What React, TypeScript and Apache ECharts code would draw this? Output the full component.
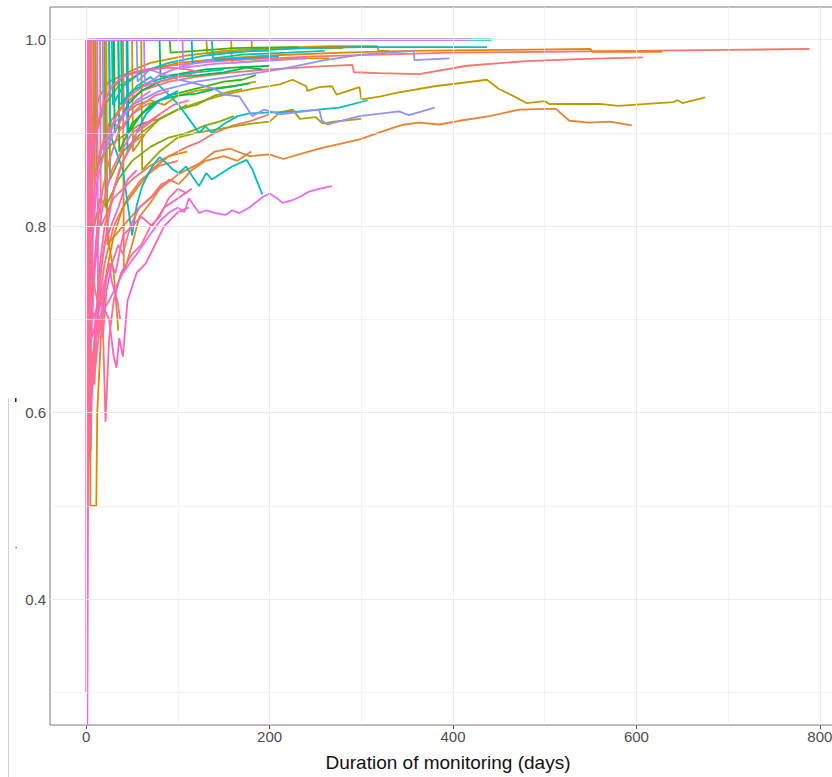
import React, { useEffect, useRef } from "react";
import * as echarts from "echarts";

// ---- axis ticks ----
const X_TICKS = [0, 200, 400, 600, 800];
const X_MINOR = [100, 300, 500, 700];
const Y_TICKS = [0.4, 0.6, 0.8, 1.0];
const Y_MINOR = [0.3, 0.5, 0.7, 0.9];
const X_TITLE = "Duration of monitoring (days)";

// ---- palette (ggplot hue) ----
const SALMON = "#F8766D", ORANGE = "#E58700", ORANGE2 = "#EA8331", GOLD = "#D39200", GOLD2 = "#C09B00",
  OLIVE = "#A3A500", OLIVEGREEN = "#7CAE00", GREEN = "#39B600", GREEN2 = "#00BB4E", TEAL2 = "#00C1A3",
  CYAN = "#00BFC4", BLUE = "#00B0F6", PERI = "#9590FF", PURPLE = "#C77CFF", MAGENTA = "#E76BF3",
  PINK1 = "#FA62DB", PINK2 = "#FF62BC", PINK3 = "#FF6C91";

// ---- series values: [day, proportion] ----
const A01 = [[3,1],[4,0.9],[8,0.92],[15,0.94],[25,0.955],[40,0.962],[60,0.967],[90,0.972],[130,0.976],[180,0.979],[250,0.982],[320,0.984],[400,0.986],[500,0.987],[600,0.988],[700,0.989],[789,0.99]];
const A02 = [[8,1],[9,0.85],[15,0.88],[25,0.91],[40,0.93],[60,0.945],[90,0.955],[120,0.96],[160,0.965],[200,0.968],[250,0.971],[290,0.973],[292,0.965],[320,0.964],[363,0.963],[415,0.972],[480,0.977],[538,0.979],[607,0.981]];
const A23 = [[15,1],[16,0.8],[30,0.83],[50,0.85],[70,0.865],[90,0.875],[110,0.885],[123,0.89],[140,0.9],[160,0.908],[180,0.913],[200,0.92]];
const A30 = [[0,1],[1,0.55],[5,0.56],[6,0.62],[12,0.7],[20,0.76],[30,0.8],[45,0.83],[60,0.85],[80,0.865],[100,0.87]];
const A42 = [[20,1],[21,0.9],[30,0.91],[40,0.905],[50,0.92],[65,0.93],[80,0.935]];
const A03 = [[10,1],[11,0.9],[20,0.93],[35,0.95],[60,0.965],[100,0.975],[150,0.98],[200,0.983],[280,0.986],[350,0.988],[450,0.989],[550,0.99],[552,0.987],[628,0.987]];
const A11 = [[40,1],[41,0.75],[50,0.78],[58,0.81],[70,0.825],[80,0.84],[101,0.856],[123,0.867],[140,0.88],[157,0.883],[178,0.875],[200,0.877],[215,0.872],[232,0.877],[254,0.883],[298,0.893],[336,0.906],[347,0.909],[363,0.911],[385,0.909],[407,0.913],[440,0.918],[472,0.925],[512,0.926],[522,0.917],[527,0.913],[549,0.911],[571,0.912],[595,0.908]];
const A24 = [[22,1],[23,0.78],[40,0.8],[58,0.82],[75,0.835],[90,0.85],[101,0.845],[115,0.86],[130,0.87],[150,0.875],[165,0.87],[180,0.88]];
const A29 = [[4,1],[4.5,0.5],[11,0.5],[12,0.6],[16,0.68],[22,0.75],[30,0.79],[40,0.82],[55,0.84],[70,0.86],[90,0.875],[110,0.88]];
const A04 = [[30,1],[31,0.95],[45,0.965],[70,0.975],[110,0.983],[150,0.988],[200,0.991],[265,0.993],[317,0.993],[319,0.988],[330,0.988]];
const A27 = [[8,1],[9,0.8],[15,0.83],[22,0.82],[25,0.78],[30,0.75],[35,0.688]];
const A43 = [[90,1],[158,1],[159,0.975],[200,0.978],[230,0.98],[265,0.98]];
const A09 = [[50,1],[51,0.88],[65,0.9],[80,0.915],[100,0.925],[120,0.932],[140,0.938],[160,0.943],[180,0.947],[211,0.952],[225,0.957],[240,0.95],[241,0.945],[254,0.949],[268,0.95],[273,0.941],[298,0.949],[300,0.936],[320,0.939],[338,0.943],[380,0.95],[437,0.957],[450,0.947],[465,0.94],[480,0.932],[500,0.934],[505,0.931],[560,0.931],[580,0.929],[640,0.933],[645,0.935],[650,0.932],[675,0.938]];
const A40 = [[40,1],[41,0.92],[55,0.93],[70,0.935],[85,0.93],[100,0.94],[120,0.945],[140,0.948],[160,0.95],[185,0.955]];
const A44 = [[120,1],[180,1],[181,0.99],[230,0.991],[280,0.991]];
const A51 = [[60,1],[131,1],[132,0.985],[160,0.987],[200,0.988]];
const A10 = [[60,1],[61,0.86],[80,0.88],[100,0.895],[120,0.9],[150,0.905],[180,0.91],[200,0.912],[211,0.922],[225,0.925],[233,0.915],[250,0.917],[258,0.91],[270,0.912],[300,0.915]];
const A41 = [[10,1],[11,0.86],[20,0.88],[30,0.89],[45,0.9],[60,0.91],[80,0.915],[100,0.925],[110,0.93]];
const A19 = [[25,1],[26,0.85],[40,0.88],[60,0.9],[80,0.915],[100,0.925],[120,0.93],[140,0.94],[160,0.945],[170,0.947]];
const A20 = [[20,1],[21,0.82],[35,0.85],[50,0.87],[70,0.885],[90,0.895],[110,0.9],[130,0.908],[145,0.912],[161,0.918]];
const A17 = [[35,1],[36,0.88],[50,0.91],[70,0.93],[90,0.94],[110,0.945],[130,0.95],[150,0.955],[170,0.957],[185,0.962]];
const A21 = [[60,1],[91,1],[92,0.986],[120,0.988],[160,0.991],[232,0.992]];
const A16 = [[30,1],[31,0.9],[45,0.93],[60,0.945],[80,0.955],[100,0.96],[123,0.962],[150,0.965],[175,0.97],[192,0.968]];
const A18 = [[45,1],[46,0.9],[60,0.92],[80,0.935],[100,0.94],[120,0.942],[140,0.947],[160,0.95],[178,0.953]];
const A49 = [[40,1],[80,1],[81,0.96],[100,0.963],[130,0.968],[160,0.97],[200,0.972]];
const A39 = [[20,1],[35,1],[36,0.93],[50,0.945],[70,0.955],[90,0.96],[120,0.965],[150,0.968]];
const A05 = [[28,1],[29,0.93],[40,0.95],[60,0.965],[90,0.975],[130,0.983],[180,0.988],[240,0.991],[300,0.992],[380,0.992],[437,0.992]];
const A07 = [[70,1],[442,1]];
const A13 = [[38,1],[39,0.93],[55,0.95],[70,0.96],[91,0.94],[101,0.93],[112,0.915],[123,0.9],[130,0.907],[137,0.9],[151,0.91],[165,0.918],[178,0.921],[205,0.922],[232,0.923],[276,0.927],[307,0.935]];
const A14 = [[25,1],[26,0.92],[28,0.893],[40,0.86],[50,0.79],[55,0.822],[61,0.843],[72,0.864],[80,0.874],[87,0.868],[94,0.861],[101,0.857],[109,0.864],[116,0.853],[123,0.843],[131,0.857],[137,0.85],[159,0.864],[175,0.871],[181,0.861],[192,0.834]];
const A52 = [[50,1],[137,1],[138,0.98],[170,0.984],[220,0.986],[260,0.988]];
const A38 = [[10,1],[44,1],[45,0.88],[55,0.9],[65,0.92],[80,0.935],[100,0.945]];
const A50 = [[20,1],[115,1],[116,0.975],[140,0.978],[170,0.98],[210,0.982]];
const A08 = [[18,1],[19,0.88],[30,0.91],[50,0.93],[80,0.945],[120,0.955],[170,0.962],[211,0.968],[260,0.978],[300,0.984],[357,0.988],[358,0.978],[396,0.98]];
const A12 = [[10,1],[55,1],[56,0.955],[69,0.968],[101,0.957],[123,0.952],[140,0.947],[151,0.941],[167,0.939],[181,0.918],[194,0.925],[211,0.92],[254,0.925],[257,0.913],[263,0.909],[298,0.918],[341,0.923],[352,0.919],[380,0.927]];
const A37 = [[5,1],[63,1],[64,0.95],[80,0.962],[100,0.97],[120,0.975],[140,0.978]];
const A53 = [[30,1],[105,1],[106,0.97],[140,0.974],[190,0.977],[240,0.98]];
const A06 = [[1,1],[420,1]];
const A15 = [[12,1],[13,0.7],[25,0.72],[40,0.75],[55,0.77],[69,0.79],[80,0.805],[91,0.815],[100,0.82],[107,0.815],[112,0.83],[123,0.814],[131,0.817],[141,0.814],[152,0.812],[159,0.817],[167,0.814],[178,0.82],[192,0.831],[200,0.835],[208,0.83],[214,0.825],[225,0.828],[232,0.831],[243,0.837],[254,0.84],[268,0.843]];
const A32 = [[1,1],[1,0.2],[2,0.5],[3,0.67],[5,0.75],[8,0.8],[12,0.85],[20,0.88],[30,0.9],[42,0.92],[55,0.935],[70,0.945]];
const A28 = [[2,1],[3,0.6],[10,0.65],[18,0.72],[25,0.76],[28,0.74],[34,0.72],[37,0.7]];
const A26 = [[6,1],[7,0.7],[15,0.72],[25,0.7],[30,0.66],[33,0.648],[36,0.68],[40,0.66],[45,0.72],[55,0.75],[65,0.76],[75,0.78],[85,0.8],[100,0.815],[112,0.82]];
const A33 = [[1,1],[2,0.58],[4,0.62],[6,0.7],[9,0.75],[14,0.8],[20,0.83],[28,0.86],[38,0.88],[50,0.9],[65,0.91],[80,0.92]];
const A36 = [[1,1],[2,0.8],[5,0.85],[10,0.9],[18,0.93],[28,0.95],[40,0.96],[55,0.965],[70,0.968],[90,0.97],[110,0.968],[125,0.965]];
const A46 = [[5,1],[6,0.68],[12,0.7],[20,0.74],[26,0.76],[32,0.75],[40,0.79],[50,0.8],[60,0.81],[72,0.8],[85,0.82],[100,0.83],[115,0.84]];
const A47 = [[1,1],[1.5,0.52],[3,0.56],[5,0.6],[7,0.64],[10,0.7],[14,0.74],[20,0.78],[27,0.8],[35,0.82],[45,0.85],[55,0.86]];
const A25 = [[4,1],[5,0.65],[10,0.68],[18,0.7],[21,0.59],[25,0.68],[30,0.72],[38,0.75],[50,0.77],[60,0.78],[70,0.8],[80,0.81],[90,0.83],[100,0.84],[110,0.835]];
const A31 = [[0,1],[0,0.3],[1,0.5],[2,0.6],[3,0.67],[5,0.72],[8,0.75],[12,0.8],[18,0.84],[25,0.87],[35,0.9],[45,0.915],[60,0.93],[75,0.94],[90,0.945]];
const A34 = [[2,1],[3,0.75],[6,0.8],[10,0.85],[16,0.88],[24,0.9],[34,0.92],[48,0.94],[62,0.95],[80,0.955],[100,0.96],[115,0.963]];
const A35 = [[3,1],[4,0.7],[8,0.74],[12,0.72],[15,0.76],[20,0.8],[28,0.83],[36,0.86],[45,0.88],[55,0.9],[68,0.91],[80,0.92],[95,0.93],[112,0.935]];
const A45 = [[3,1],[4,0.62],[8,0.66],[14,0.7],[18,0.68],[22,0.73],[28,0.76],[35,0.78],[40,0.77],[48,0.8],[58,0.82],[70,0.83],[82,0.845],[95,0.85]];
const A48 = [[2,1],[3,0.55],[5,0.6],[7,0.66],[9,0.63],[12,0.7],[17,0.76],[23,0.8],[30,0.84],[40,0.87],[52,0.89],[65,0.9]];

const SERIES = [
  { name: "A01", color: SALMON, data: A01 },
  { name: "A02", color: SALMON, data: A02 },
  { name: "A23", color: SALMON, data: A23 },
  { name: "A30", color: SALMON, data: A30 },
  { name: "A42", color: SALMON, data: A42 },
  { name: "A03", color: ORANGE, data: A03 },
  { name: "A11", color: ORANGE2, data: A11 },
  { name: "A24", color: ORANGE2, data: A24 },
  { name: "A29", color: ORANGE, data: A29 },
  { name: "A04", color: GOLD, data: A04 },
  { name: "A27", color: GOLD, data: A27 },
  { name: "A43", color: GOLD, data: A43 },
  { name: "A09", color: GOLD2, data: A09 },
  { name: "A40", color: GOLD2, data: A40 },
  { name: "A44", color: GOLD2, data: A44 },
  { name: "A51", color: GOLD2, data: A51 },
  { name: "A10", color: OLIVE, data: A10 },
  { name: "A41", color: OLIVE, data: A41 },
  { name: "A19", color: OLIVEGREEN, data: A19 },
  { name: "A20", color: OLIVEGREEN, data: A20 },
  { name: "A17", color: GREEN, data: A17 },
  { name: "A21", color: GREEN, data: A21 },
  { name: "A16", color: GREEN2, data: A16 },
  { name: "A18", color: GREEN2, data: A18 },
  { name: "A49", color: GREEN2, data: A49 },
  { name: "A39", color: TEAL2, data: A39 },
  { name: "A05", color: CYAN, data: A05 },
  { name: "A07", color: CYAN, data: A07 },
  { name: "A13", color: CYAN, data: A13 },
  { name: "A14", color: CYAN, data: A14 },
  { name: "A52", color: CYAN, data: A52 },
  { name: "A38", color: BLUE, data: A38 },
  { name: "A50", color: BLUE, data: A50 },
  { name: "A08", color: PERI, data: A08 },
  { name: "A12", color: PERI, data: A12 },
  { name: "A37", color: PURPLE, data: A37 },
  { name: "A53", color: PURPLE, data: A53 },
  { name: "A06", color: MAGENTA, data: A06 },
  { name: "A15", color: MAGENTA, data: A15 },
  { name: "A32", color: MAGENTA, data: A32 },
  { name: "A28", color: PINK1, data: A28 },
  { name: "A26", color: PINK2, data: A26 },
  { name: "A33", color: PINK2, data: A33 },
  { name: "A36", color: PINK2, data: A36 },
  { name: "A46", color: PINK2, data: A46 },
  { name: "A47", color: PINK2, data: A47 },
  { name: "A25", color: PINK3, data: A25 },
  { name: "A31", color: PINK3, data: A31 },
  { name: "A34", color: PINK3, data: A34 },
  { name: "A35", color: PINK3, data: A35 },
  { name: "A45", color: PINK3, data: A45 },
  { name: "A48", color: PINK3, data: A48 },
];

const FONT = "'Liberation Sans', Arial, sans-serif";

export default function App() {
  const ref = useRef<HTMLDivElement>(null);
  useEffect(() => {
    if (!ref.current) return;
    const chart = echarts.init(ref.current, null, { renderer: "svg" });
    const gridLines = [
      ...X_MINOR.map((v) => ({ xAxis: v, lineStyle: { width: 0.6 } })),
      ...Y_MINOR.map((v) => ({ yAxis: v, lineStyle: { width: 0.6 } })),
      ...X_TICKS.map((v) => ({ xAxis: v, lineStyle: { width: 1.1 } })),
      ...Y_TICKS.map((v) => ({ yAxis: v, lineStyle: { width: 1.1 } })),
    ];
    chart.setOption({
      animation: false,
      backgroundColor: "#ffffff",
      grid: { left: 50, top: 7, width: 796, height: 722, show: true, borderColor: "#7a7a7a", borderWidth: 1, backgroundColor: "transparent" },
      xAxis: {
        type: "value", min: -39.5, max: 828.5,
        axisLine: { show: false },
        splitLine: { show: false },
        axisTick: { show: true, customValues: X_TICKS, length: 4, lineStyle: { color: "#555" } },
        axisLabel: { customValues: X_TICKS, color: "#4d4d4d", fontSize: 15, fontFamily: FONT, margin: 4, formatter: (v: number) => String(v) },
        name: X_TITLE, nameLocation: "middle", nameGap: 28,
        nameTextStyle: { color: "#111", fontSize: 19, fontFamily: FONT },
      },
      yAxis: {
        type: "value", min: 0.265, max: 1.035,
        axisLine: { show: false },
        splitLine: { show: false },
        axisTick: { show: true, customValues: Y_TICKS, length: 4, lineStyle: { color: "#555" } },
        axisLabel: { customValues: Y_TICKS, color: "#4d4d4d", fontSize: 15, fontFamily: FONT, margin: 4, formatter: (v: number) => v.toFixed(1) },
      },
      series: [
        {
          type: "line", data: [], z: 1, silent: true,
          markLine: { silent: true, symbol: "none", label: { show: false }, lineStyle: { color: "#ebebeb", type: "solid" }, data: gridLines, animation: false },
        },
        ...SERIES.map((s) => ({
          type: "line", name: s.name, data: s.data, showSymbol: false, symbol: "none",
          lineStyle: { color: s.color, width: s.name === "A06" || s.name === "A07" ? 2.4 : 1.8 },
          itemStyle: { color: s.color },
          clip: true, z: 2, silent: true,
        })),
      ],
      graphic: [
        { type: "line", shape: { x1: 8.5, y1: 398, x2: 8.5, y2: 777 }, style: { stroke: "#d0d0d0", lineWidth: 1 } },
        { type: "rect", shape: { x: 15, y: 398, width: 1.5, height: 4 }, style: { fill: "#222" } },
        { type: "rect", shape: { x: 15.5, y: 547, width: 1.2, height: 1.2 }, style: { fill: "#444" } },
      ],
    });
    return () => chart.dispose();
  }, []);
  return <div ref={ref} style={{ position: "fixed", left: 0, top: 0, width: 860, height: 777 }} />;
}
